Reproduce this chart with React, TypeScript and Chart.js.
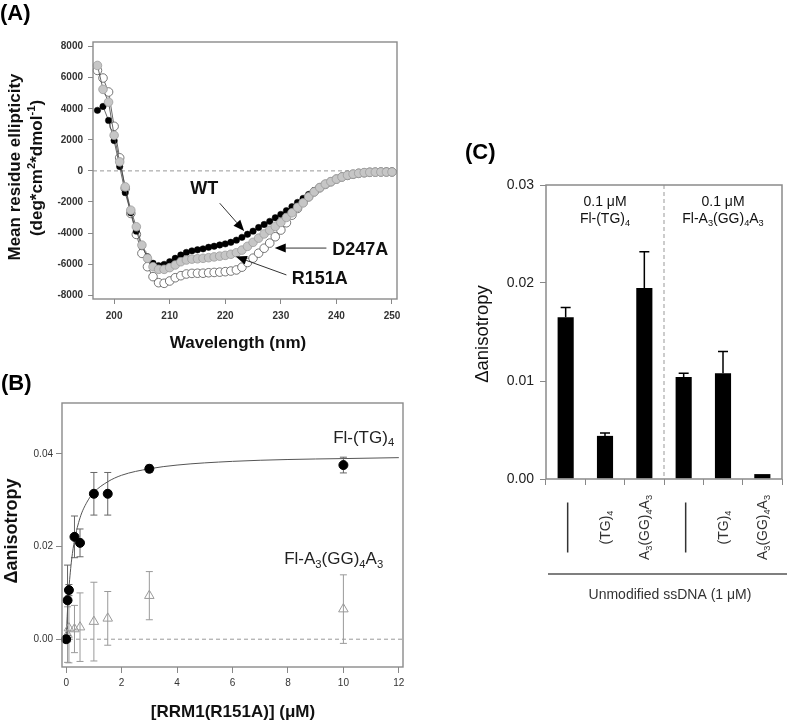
import React, { useEffect, useRef } from 'react';
import { Chart, registerables } from 'chart.js';

Chart.register(...registerables);

const FF = '"Liberation Sans", Arial, Helvetica, sans-serif';
Chart.defaults.font.family = FF;

// ---------- Panel A data ----------
const wavelengthNm = [
  197, 198, 199, 200, 201, 202, 203, 204, 205, 206, 207, 208, 209, 210, 211, 212, 213, 214,
  215, 216, 217, 218, 219, 220, 221, 222, 223, 224, 225, 226, 227, 228, 229, 230, 231, 232,
  233, 234, 235, 236, 237, 238, 239, 240, 241, 242, 243, 244, 245, 246, 247, 248, 249, 250,
];
const ellipWT = [
  3900, 4150, 3250, 1950, 280, -1400, -2700, -3880, -4880, -5530, -5950, -6100, -6020, -5850, -5630, -5420, -5250, -5150,
  -5080, -5020, -4920, -4850, -4770, -4700, -4600, -4460, -4280, -4080, -3880, -3650, -3450, -3250, -3020, -2800, -2560, -2300,
  -2030, -1770, -1520, -1260, -1040, -860, -690, -520, -390, -280, -200, -140, -100, -70, -50, -40, -30, -20,
];
const ellipD247A = [
  6790, 5250, 4430, 2290, 580, -1030, -2530, -3600, -4780, -5630, -6170, -6340, -6340, -6230, -6060, -5850, -5740, -5680,
  -5660, -5630, -5590, -5540, -5490, -5440, -5370, -5270, -5100, -4860, -4600, -4330, -4060, -3820, -3580, -3320, -3000, -2700,
  -2350, -2060, -1670, -1350, -1070, -850, -690, -530, -390, -280, -210, -150, -110, -90, -80, -70, -70, -70,
];
const ellipR151A = [
  6470, 5980, 5080, 2870, 840, -1130, -2740, -4090, -5310, -6170, -6810, -7200, -7240, -7090, -6880, -6750, -6640, -6600,
  -6590, -6590, -6560, -6540, -6520, -6490, -6450, -6380, -6200, -5900, -5620, -5300, -4980, -4650, -4240, -3810, -3340, -2850,
  -2420, -2030, -1670, -1350, -1090, -870, -700, -530, -390, -290, -220, -160, -120, -90, -80, -70, -70, -70,
];
const ticksAx = [200, 210, 220, 230, 240, 250];
const ticksAy = [-8000, -6000, -4000, -2000, 0, 2000, 4000, 6000, 8000];

// ---------- Panel B data ----------
const concB = [0, 0.05, 0.1, 0.3, 0.5, 1, 1.5, 3, 10];
const anisoTG = [0, 0.0084, 0.0106, 0.0221, 0.0208, 0.0314, 0.0314, 0.0368, 0.0376];
const errTG = [0, 0.0076, 0.0012, 0.0045, 0.003, 0.0046, 0.0046, 0.0008, 0.0017];
const anisoGG = [0, 0.001, 0.0024, 0.0022, 0.0026, 0.0038, 0.0045, 0.0094, 0.0065];
const errGG = [0, 0.006, 0.0075, 0.0051, 0.0074, 0.0085, 0.0058, 0.0052, 0.0074];
const fitX = [0, 0.05, 0.1, 0.2, 0.3, 0.5, 0.75, 1, 1.5, 2, 3, 4, 6, 8, 10, 12];
const fitY = [0, 0.0064, 0.011, 0.0173, 0.0213, 0.0262, 0.0296, 0.0317, 0.034, 0.0354, 0.0368, 0.0376, 0.0384, 0.0388, 0.039, 0.0392];
const ticksBx = [0, 2, 4, 6, 8, 10, 12];
const ticksBy = [0, 0.02, 0.04];

// ---------- Panel C data ----------
const categoriesC = ['—', '(TG)_{4}', 'A_{3}(GG)_{4}A_{3}', '—', '(TG)_{4}', 'A_{3}(GG)_{4}A_{3}'];
const valuesC = [0.0165, 0.0044, 0.0195, 0.0104, 0.0108, 0.0005];
const errorsC = [0.001, 0.0003, 0.0037, 0.0004, 0.0022, 0];
const groupLabelsC = [
  ['0.1 μM', 'Fl-(TG)_{4}'],
  ['0.1 μM', 'Fl-A_{3}(GG)_{4}A_{3}'],
];
const ticksCy = [0, 0.01, 0.02, 0.03];

// ---------- helpers ----------
type Seg = { t: string; k: number };
function parseRich(s: string): Seg[] {
  const out: Seg[] = [];
  let buf = '';
  let i = 0;
  while (i < s.length) {
    const c = s[i];
    if ((c === '_' || c === '^') && s[i + 1] === '{') {
      if (buf) { out.push({ t: buf, k: 0 }); buf = ''; }
      const end = s.indexOf('}', i);
      out.push({ t: s.slice(i + 2, end), k: c === '_' ? -1 : 1 });
      i = end + 1;
    } else {
      buf += c;
      i++;
    }
  }
  if (buf) out.push({ t: buf, k: 0 });
  return out;
}

function drawRich(
  ctx: CanvasRenderingContext2D, text: string, x: number, y: number, size: number,
  weight: string, align: 'left' | 'center' | 'right', color: string, rot = 0,
) {
  const segs = parseRich(text);
  ctx.save();
  ctx.translate(x, y);
  if (rot) ctx.rotate(rot);
  ctx.fillStyle = color;
  ctx.textBaseline = 'alphabetic';
  ctx.textAlign = 'left';
  const fs = (k: number) => (k === 0 ? size : size * 0.66);
  let total = 0;
  for (const s of segs) {
    ctx.font = `${weight} ${fs(s.k)}px ${FF}`;
    total += ctx.measureText(s.t).width;
  }
  let cx = align === 'center' ? -total / 2 : align === 'right' ? -total : 0;
  const base = size * 0.36;
  for (const s of segs) {
    ctx.font = `${weight} ${fs(s.k)}px ${FF}`;
    const dy = s.k === -1 ? size * 0.2 : s.k === 1 ? -size * 0.4 : 0;
    ctx.fillText(s.t, cx, base + dy);
    cx += ctx.measureText(s.t).width;
  }
  ctx.restore();
}

function drawArrow(ctx: CanvasRenderingContext2D, x1: number, y1: number, x2: number, y2: number, color: string) {
  const ang = Math.atan2(y2 - y1, x2 - x1);
  const hl = 11;
  const hw = 4.5;
  const bx = x2 - hl * Math.cos(ang);
  const by = y2 - hl * Math.sin(ang);
  ctx.save();
  ctx.strokeStyle = color;
  ctx.fillStyle = '#000';
  ctx.lineWidth = 1;
  ctx.beginPath();
  ctx.moveTo(x1, y1);
  ctx.lineTo(bx, by);
  ctx.stroke();
  ctx.beginPath();
  ctx.moveTo(x2, y2);
  ctx.lineTo(bx + hw * Math.sin(ang), by - hw * Math.cos(ang));
  ctx.lineTo(bx - hw * Math.sin(ang), by + hw * Math.cos(ang));
  ctx.closePath();
  ctx.fill();
  ctx.restore();
}

function box(ctx: CanvasRenderingContext2D, a: any, color: string, lw: number) {
  ctx.save();
  ctx.strokeStyle = color;
  ctx.lineWidth = lw;
  ctx.strokeRect(a.left, a.top, a.right - a.left, a.bottom - a.top);
  ctx.restore();
}

function hDash(ctx: CanvasRenderingContext2D, a: any, y: number) {
  ctx.save();
  ctx.strokeStyle = '#999';
  ctx.lineWidth = 1;
  ctx.setLineDash([4, 3]);
  ctx.beginPath();
  ctx.moveTo(a.left, y);
  ctx.lineTo(a.right, y);
  ctx.stroke();
  ctx.restore();
}

// ---------- Panel A ----------
const annotA = [
  { text: 'WT', tx: 216.2, ty: -1100, from: [219.0, -2080], to: [223.4, -3870] },
  { text: 'D247A', tx: 244.3, ty: -4970, from: [238.2, -4970], to: [228.9, -4970] },
  { text: 'R151A', tx: 237.0, ty: -6850, from: [231.0, -6700], to: [221.9, -5520] },
];

function configA(): any {
  const pts = (ys: number[]) => wavelengthNm.map((x, i) => ({ x, y: ys[i] }));
  const plugin = {
    id: 'panelA',
    beforeDatasetsDraw(chart: any) {
      const { ctx, chartArea: a, scales } = chart;
      hDash(ctx, a, scales.y.getPixelForValue(0));
    },
    afterDraw(chart: any) {
      const { ctx, chartArea: a, scales } = chart;
      box(ctx, a, '#8a8a8a', 1.4);
      const sx = scales.x, sy = scales.y;
      for (const an of annotA) {
        drawRich(ctx, an.text, sx.getPixelForValue(an.tx), sy.getPixelForValue(an.ty), 18, 'bold', 'center', '#111');
        drawArrow(ctx, sx.getPixelForValue(an.from[0]), sy.getPixelForValue(an.from[1]),
          sx.getPixelForValue(an.to[0]), sy.getPixelForValue(an.to[1]), '#333');
      }
      drawRich(ctx, '(A)', 0, 12, 22, 'bold', 'left', '#000');
      drawRich(ctx, 'Mean residue ellipticity', 14, 167, 17, 'bold', 'center', '#111', -Math.PI / 2);
      drawRich(ctx, '(deg*cm^{2}*dmol^{-1})', 36, 168, 17, 'bold', 'center', '#111', -Math.PI / 2);
      drawRich(ctx, 'Wavelength (nm)', 238, 342, 17, 'bold', 'center', '#111');
    },
  };
  return {
    type: 'scatter',
    data: {
      datasets: [
        { label: 'D247A', data: pts(ellipD247A), showLine: true, borderColor: '#444', borderWidth: 0.8,
          pointRadius: 4.3, pointBackgroundColor: '#c6c6c6', pointBorderColor: '#9c9c9c', pointBorderWidth: 0.8, clip: false },
        { label: 'WT', data: pts(ellipWT), showLine: true, borderColor: '#444', borderWidth: 0.8,
          pointRadius: 3.2, pointBackgroundColor: '#000', pointBorderColor: '#000', pointBorderWidth: 0.5, clip: false },
        { label: 'R151A', data: pts(ellipR151A), showLine: true, borderColor: '#444', borderWidth: 0.8,
          pointRadius: 4.3, pointBackgroundColor: '#fff', pointBorderColor: '#555', pointBorderWidth: 0.8, clip: false },
      ],
    },
    options: {
      responsive: false, animation: false, devicePixelRatio: 1,
      layout: { padding: { left: 0, top: 42, right: 13, bottom: 0 } },
      plugins: { legend: { display: false }, tooltip: { enabled: false } },
      scales: {
        x: {
          type: 'linear', min: 196.2, max: 250.9,
          afterFit: (s: any) => { s.height = 61; },
          afterBuildTicks: (s: any) => { s.ticks = ticksAx.map((v) => ({ value: v })); },
          grid: { drawOnChartArea: false, tickLength: 5, color: '#888' },
          border: { display: false },
          ticks: { font: { size: 10, weight: 'bold' }, color: '#333', padding: 6, maxRotation: 0 },
        },
        y: {
          type: 'linear', min: -8250, max: 8300,
          afterFit: (s: any) => { s.width = 93; },
          afterBuildTicks: (s: any) => { s.ticks = ticksAy.map((v) => ({ value: v })); },
          grid: { drawOnChartArea: false, tickLength: 5, color: '#888' },
          border: { display: false },
          ticks: { font: { size: 10, weight: 'bold' }, color: '#333', padding: 5, callback: (v: any) => String(v) },
        },
      },
    },
    plugins: [plugin],
  };
}

// ---------- Panel B ----------
const labelsB = [
  { text: 'Fl-(TG)_{4}', x: 10.73, y: 0.0437 },
  { text: 'Fl-A_{3}(GG)_{4}A_{3}', x: 9.65, y: 0.0175 },
];

function configB(): any {
  const errBars = (ctx: CanvasRenderingContext2D, sx: any, sy: any, vals: number[], errs: number[], color: string) => {
    ctx.save();
    ctx.strokeStyle = color;
    ctx.lineWidth = 1;
    concB.forEach((c, i) => {
      const e = errs[i];
      if (!e) return;
      const x = sx.getPixelForValue(c);
      const y1 = sy.getPixelForValue(vals[i] + e);
      const y2 = sy.getPixelForValue(vals[i] - e);
      ctx.beginPath();
      ctx.moveTo(x, y1); ctx.lineTo(x, y2);
      ctx.moveTo(x - 3.5, y1); ctx.lineTo(x + 3.5, y1);
      ctx.moveTo(x - 3.5, y2); ctx.lineTo(x + 3.5, y2);
      ctx.stroke();
    });
    ctx.restore();
  };
  const plugin = {
    id: 'panelB',
    beforeDatasetsDraw(chart: any) {
      const { ctx, chartArea: a, scales } = chart;
      hDash(ctx, a, scales.y.getPixelForValue(0));
      errBars(ctx, scales.x, scales.y, anisoGG, errGG, '#9a9a9a');
      errBars(ctx, scales.x, scales.y, anisoTG, errTG, '#666');
    },
    afterDraw(chart: any) {
      const { ctx, chartArea: a, scales } = chart;
      box(ctx, a, '#8a8a8a', 1.4);
      for (const l of labelsB) {
        drawRich(ctx, l.text, scales.x.getPixelForValue(l.x), scales.y.getPixelForValue(l.y), 17, 'normal', 'center', '#222');
      }
      drawRich(ctx, '(B)', 1, 22, 22, 'bold', 'left', '#000');
      drawRich(ctx, 'Δanisotropy', 11, 171, 18, 'bold', 'center', '#111', -Math.PI / 2);
      drawRich(ctx, '[RRM1(R151A)] (μM)', 233, 351, 17, 'bold', 'center', '#111');
    },
  };
  return {
    type: 'scatter',
    data: {
      datasets: [
        { label: 'Fl-(TG)4', data: concB.map((x, i) => ({ x, y: anisoTG[i] })), pointRadius: 4.5,
          pointBackgroundColor: '#000', pointBorderColor: '#000', clip: false },
        { label: 'Fl-A3(GG)4A3', data: concB.map((x, i) => ({ x, y: anisoGG[i] })), pointRadius: 5.5,
          pointStyle: 'triangle', pointBackgroundColor: 'rgba(255,255,255,0)', pointBorderColor: '#9a9a9a',
          pointBorderWidth: 1, clip: false },
        { label: 'fit', data: fitX.map((x, i) => ({ x, y: fitY[i] })), showLine: true, pointRadius: 0,
          borderColor: '#555', borderWidth: 1, cubicInterpolationMode: 'monotone', clip: false },
      ],
    },
    options: {
      responsive: false, animation: false, devicePixelRatio: 1,
      layout: { padding: { left: 0, top: 43, right: 17, bottom: 0 } },
      plugins: { legend: { display: false }, tooltip: { enabled: false } },
      scales: {
        x: {
          type: 'linear', min: -0.15, max: 12.15,
          afterFit: (s: any) => { s.height = 57; },
          afterBuildTicks: (s: any) => { s.ticks = ticksBx.map((v) => ({ value: v })); },
          grid: { drawOnChartArea: false, tickLength: 6, color: '#888' },
          border: { display: false },
          ticks: { font: { size: 10 }, color: '#333', padding: 4, maxRotation: 0 },
        },
        y: {
          type: 'linear', min: -0.006, max: 0.051,
          afterFit: (s: any) => { s.width = 62; },
          afterBuildTicks: (s: any) => { s.ticks = ticksBy.map((v) => ({ value: v })); },
          grid: { drawOnChartArea: false, tickLength: 6, color: '#888' },
          border: { display: false },
          ticks: { font: { size: 10 }, color: '#333', padding: 3, callback: (v: any) => Number(v).toFixed(2) },
        },
      },
    },
    plugins: [plugin],
  };
}

// ---------- Panel C ----------
function configC(): any {
  const plugin = {
    id: 'panelC',
    beforeDatasetsDraw(chart: any) {
      const { ctx, chartArea: a, scales } = chart;
      const xm = (scales.x.getPixelForValue(2) + scales.x.getPixelForValue(3)) / 2;
      ctx.save();
      ctx.strokeStyle = '#999';
      ctx.lineWidth = 1;
      ctx.setLineDash([4, 3]);
      ctx.beginPath();
      ctx.moveTo(xm, a.top); ctx.lineTo(xm, a.bottom);
      ctx.stroke();
      ctx.restore();
    },
    afterDatasetsDraw(chart: any) {
      const { ctx, scales } = chart;
      ctx.save();
      ctx.strokeStyle = '#000';
      ctx.lineWidth = 1.5;
      valuesC.forEach((v, i) => {
        const e = errorsC[i];
        if (!e) return;
        const x = scales.x.getPixelForValue(i);
        const y0 = scales.y.getPixelForValue(v);
        const y1 = scales.y.getPixelForValue(v + e);
        ctx.beginPath();
        ctx.moveTo(x, y0); ctx.lineTo(x, y1);
        ctx.moveTo(x - 5, y1); ctx.lineTo(x + 5, y1);
        ctx.stroke();
      });
      ctx.restore();
    },
    afterDraw(chart: any) {
      const { ctx, chartArea: a, scales } = chart;
      box(ctx, a, '#8a8a8a', 1.5);
      const sx = scales.x;
      groupLabelsC.forEach((g, gi) => {
        const gx = (sx.getPixelForValue(gi * 3) + sx.getPixelForValue(gi * 3 + 2)) / 2;
        drawRich(ctx, g[0], gx, a.top + 16, 14, 'normal', 'center', '#111');
        drawRich(ctx, g[1], gx, a.top + 33, 14, 'normal', 'center', '#111');
      });
      const cy = a.bottom + 48.5;
      categoriesC.forEach((c, i) => {
        const x = sx.getPixelForValue(i);
        if (c === '—') {
          ctx.save();
          ctx.strokeStyle = '#333';
          ctx.lineWidth = 1.5;
          ctx.beginPath();
          ctx.moveTo(x + 2, cy - 25); ctx.lineTo(x + 2, cy + 25);
          ctx.stroke();
          ctx.restore();
        } else {
          drawRich(ctx, c, x, cy, 14, 'normal', 'center', '#333', -Math.PI / 2);
        }
      });
      ctx.save();
      ctx.strokeStyle = '#555';
      ctx.lineWidth = 1.5;
      ctx.beginPath();
      ctx.moveTo(a.left + 2, a.bottom + 95);
      ctx.lineTo(a.right + 5, a.bottom + 95);
      ctx.stroke();
      ctx.restore();
      drawRich(ctx, 'Unmodified ssDNA (1 μM)', 230, a.bottom + 115, 14, 'normal', 'center', '#333');
      drawRich(ctx, '(C)', 25, 51, 22, 'bold', 'left', '#000');
      drawRich(ctx, 'Δanisotropy', 41, 234, 18.5, 'normal', 'center', '#111', -Math.PI / 2);
    },
  };
  return {
    type: 'bar',
    data: {
      labels: categoriesC,
      datasets: [{ label: 'Δanisotropy', data: valuesC, backgroundColor: '#000', borderWidth: 0,
        categoryPercentage: 1, barPercentage: 0.41 }],
    },
    options: {
      responsive: false, animation: false, devicePixelRatio: 1,
      layout: { padding: { left: 0, top: 85, right: 5, bottom: 0 } },
      plugins: { legend: { display: false }, tooltip: { enabled: false } },
      scales: {
        x: {
          afterFit: (s: any) => { s.height = 141; },
          grid: { offset: true, drawOnChartArea: false, tickLength: 6, color: '#888' },
          border: { display: false },
          ticks: { display: false },
        },
        y: {
          type: 'linear', min: 0, max: 0.03,
          afterFit: (s: any) => { s.width = 106; },
          afterBuildTicks: (s: any) => { s.ticks = ticksCy.map((v) => ({ value: v })); },
          grid: { drawOnChartArea: false, tickLength: 6, color: '#888' },
          border: { display: false },
          ticks: { font: { size: 14 }, color: '#222', padding: 6, callback: (v: any) => Number(v).toFixed(2) },
        },
      },
    },
    plugins: [plugin],
  };
}

function ChartBox(props: { left: number; top: number; width: number; height: number; make: () => any }) {
  const ref = useRef<HTMLCanvasElement>(null);
  useEffect(() => {
    const chart = new Chart(ref.current as HTMLCanvasElement, props.make());
    return () => chart.destroy();
  }, []);
  return (
    <canvas
      ref={ref}
      width={props.width}
      height={props.height}
      style={{ position: 'absolute', left: props.left, top: props.top, width: props.width, height: props.height, display: 'block' }}
    />
  );
}

export default function App() {
  return (
    <div style={{ position: 'absolute', left: 0, top: 0, width: 787, height: 724, background: '#fff', overflow: 'hidden' }}>
      <ChartBox left={0} top={0} width={410} height={360} make={configA} />
      <ChartBox left={0} top={360} width={420} height={364} make={configB} />
      <ChartBox left={440} top={100} width={347} height={520} make={configC} />
    </div>
  );
}
